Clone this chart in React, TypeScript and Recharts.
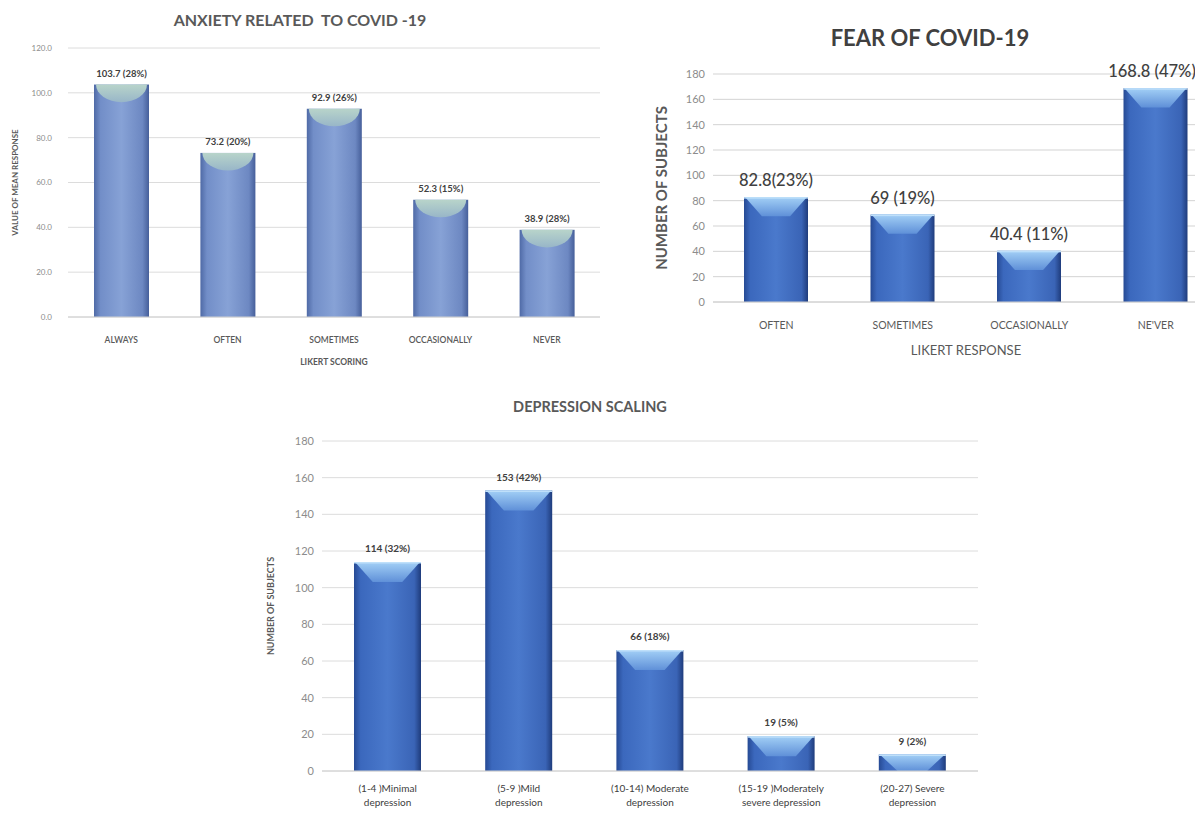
import React from "react";
import { Bar, BarChart, CartesianGrid, LabelList, XAxis, YAxis } from "recharts";

// anxiety related to covid-19
const anxietyCategories = ["ALWAYS", "OFTEN", "SOMETIMES", "OCCASIONALLY", "NEVER"];
const anxietyValues = [103.7, 73.2, 92.9, 52.3, 38.9];
const anxietyLabels = ["103.7 (28%)", "73.2 (20%)", "92.9 (26%)", "52.3 (15%)", "38.9 (28%)"];
const anxietyTicks = [0, 20, 40, 60, 80, 100, 120];

// fear of covid-19
const fearCategories = ["OFTEN", "SOMETIMES", "OCCASIONALLY", "NE'VER"];
const fearValues = [82.8, 69, 40.4, 168.8];
const fearLabels = ["82.8(23%)", "69 (19%)", "40.4 (11%)", "168.8 (47%)"];
const countTicks = [0, 20, 40, 60, 80, 100, 120, 140, 160, 180];

// depression scaling
const depressionCategories = [
  "(1-4 )Minimal\ndepression",
  "(5-9 )Mild\ndepression",
  "(10-14) Moderate\ndepression",
  "(15-19 )Moderately\nsevere depression",
  "(20-27) Severe\ndepression",
];
const depressionValues = [114, 153, 66, 19, 9];
const depressionLabels = ["114 (32%)", "153 (42%)", "66 (18%)", "19 (5%)", "9 (2%)"];

const FONT = "Lato, 'Open Sans', sans-serif";

const anxietyData = anxietyCategories.map((name, i) => ({ name, value: anxietyValues[i], label: anxietyLabels[i] }));
const fearData = fearCategories.map((name, i) => ({ name, value: fearValues[i], label: fearLabels[i] }));
const depressionData = depressionCategories.map((name, i) => ({
  name,
  value: depressionValues[i],
  label: depressionLabels[i],
}));

function DeepBar(props: any) {
  const { x, y, width, height, index, tag } = props;
  if (!width || height <= 0) return null;
  const d = Math.min(width * 0.3, height);
  const id = `${tag}-${index}`;
  return (
    <g>
      <defs>
        <linearGradient id={`${id}-b`} x1="0" y1="0" x2="1" y2="0">
          <stop offset="0" stopColor="#264a94" />
          <stop offset="0.1" stopColor="#3b68bd" />
          <stop offset="0.5" stopColor="#4a79cc" />
          <stop offset="0.9" stopColor="#3a64b6" />
          <stop offset="1" stopColor="#1f3c7c" />
        </linearGradient>
        <linearGradient id={`${id}-t`} x1="0" y1="0" x2="0" y2="1">
          <stop offset="0" stopColor="#a3d0f6" />
          <stop offset="1" stopColor="#5f90d8" />
        </linearGradient>
      </defs>
      <rect x={x} y={y} width={width} height={height} fill={`url(#${id}-b)`} />
      <polygon
        points={`${x + 1},${y} ${x + width - 1},${y} ${x + width * 0.72},${y + d} ${x + width * 0.28},${y + d}`}
        fill={`url(#${id}-t)`}
      />
      <rect x={x} y={y} width={width} height={1.5} fill="#bfe0fa" />
    </g>
  );
}

function SoftBar(props: any) {
  const { x, y, width, height, index } = props;
  if (!width || height <= 0) return null;
  const d = Math.min(width * 0.32, height);
  const id = `anx-${index}`;
  return (
    <g>
      <defs>
        <linearGradient id={`${id}-b`} x1="0" y1="0" x2="1" y2="0">
          <stop offset="0" stopColor="#4f6aa6" />
          <stop offset="0.12" stopColor="#728ec8" />
          <stop offset="0.5" stopColor="#87a2d6" />
          <stop offset="0.88" stopColor="#6d88c2" />
          <stop offset="1" stopColor="#465f9a" />
        </linearGradient>
        <linearGradient id={`${id}-t`} x1="0" y1="0" x2="0" y2="1">
          <stop offset="0" stopColor="#b8d4ca" />
          <stop offset="1" stopColor="#98b6c8" />
        </linearGradient>
      </defs>
      <rect x={x} y={y} width={width} height={height} fill={`url(#${id}-b)`} />
      <path
        d={`M${x + 2},${y} L${x + width - 2},${y} A${width / 2 - 2},${d} 0 0 1 ${x + 2},${y} Z`}
        fill={`url(#${id}-t)`}
      />
    </g>
  );
}

const makeTick = (size: number, color: string, weight: number, dy: number) => (p: any) => (
  <text x={p.x} y={p.y + dy} textAnchor="middle" fontFamily={FONT} fontSize={size} fontWeight={weight} fill={color}>
    {p.payload.value}
  </text>
);

const TwoLineTick = (p: any) => {
  const lines = String(p.payload.value).split("\n");
  return (
    <text x={p.x} y={p.y + 19} textAnchor="middle" fontFamily={FONT} fontSize={10} fill="#404040">
      {lines.map((l, i) => (
        <tspan key={i} x={p.x} dy={i === 0 ? 0 : 13.5}>
          {l}
        </tspan>
      ))}
    </text>
  );
};

// maxX keeps a label inside the visible page when its bar sits near the edge
const makeLabel = (data: any[], size: number, weight: number, color: string, gap: number, maxX = Infinity) => (
  p: any
) => (
  <text
    x={Math.min(p.x + p.width / 2, maxX)}
    y={p.y - gap}
    textAnchor="middle"
    fontFamily={FONT}
    fontSize={size}
    fontWeight={weight}
    fill={color}
  >
    {data[p.index].label}
  </text>
);

const yTitle = (text: string, dx: number, size: number) => (p: any) => {
  const vb = p.viewBox;
  const cx = vb.x + dx;
  const cy = vb.y + vb.height / 2;
  return (
    <text
      x={cx}
      y={cy}
      transform={`rotate(-90 ${cx} ${cy})`}
      textAnchor="middle"
      dominantBaseline="central"
      fontFamily={FONT}
      fontSize={size}
      fontWeight={700}
      fill="#595959"
    >
      {text}
    </text>
  );
};

const xTitle = (text: string, dy: number, size: number, weight: number) => (p: any) => {
  const vb = p.viewBox;
  return (
    <text
      x={vb.x + vb.width / 2}
      y={vb.y + dy}
      textAnchor="middle"
      fontFamily={FONT}
      fontSize={size}
      fontWeight={weight}
      fill="#595959"
    >
      {text}
    </text>
  );
};

const titleStyle = (left: number, top: number, width: number, size: number, color: string): React.CSSProperties => ({
  position: "absolute",
  left,
  top,
  width,
  textAlign: "center",
  fontFamily: FONT,
  fontWeight: 700,
  fontSize: size,
  color,
  lineHeight: 1,
});

export default function App() {
  return (
    <div style={{ position: "relative", width: 1203, height: 816, margin: -8, overflow: "hidden", background: "#fff" }}>
      <div style={titleStyle(150, 12, 300, 16, "#595959")}>ANXIETY RELATED&nbsp; TO COVID -19</div>
      <div style={{ position: "absolute", left: 0, top: 0 }}>
        <BarChart width={610} height={375} data={anxietyData} margin={{ top: 48, right: 10, bottom: 0, left: 0 }}>
          <CartesianGrid stroke="#dcdcdc" vertical={false} />
          <XAxis
            dataKey="name"
            axisLine={{ stroke: "#d0d0d0" }}
            tickLine={false}
            tickSize={0}
            height={58}
            interval={0}
            tick={makeTick(8.5, "#595959", 600, 24)}
            label={{ content: xTitle("LIKERT SCORING", 48, 8.5, 700) }}
          />
          <YAxis
            width={68}
            domain={[0, 120]}
            ticks={anxietyTicks}
            axisLine={false}
            tickLine={false}
            tickMargin={10}
            tickFormatter={(v: number) => v.toFixed(1)}
            tick={{ fontFamily: FONT, fontSize: 8, fill: "#8c8c8c" }}
            label={{ content: yTitle("VALUE OF MEAN RESPONSE", 15, 8) }}
          />
          <Bar dataKey="value" barSize={55} isAnimationActive={false} shape={(p: any) => <SoftBar {...p} />}>
            <LabelList content={makeLabel(anxietyData, 9.5, 700, "#404040", 8)} />
          </Bar>
        </BarChart>
      </div>

      <div style={titleStyle(780, 27, 300, 22, "#404040")}>FEAR OF COVID-19</div>
      <div style={{ position: "absolute", left: 600, top: 0 }}>
        <BarChart width={620} height={375} data={fearData} margin={{ top: 74, right: 1, bottom: 0, left: 0 }}>
          <CartesianGrid stroke="#d3d3d3" vertical={false} />
          <XAxis
            dataKey="name"
            axisLine={{ stroke: "#d0d0d0" }}
            tickLine={false}
            tickSize={0}
            height={73}
            interval={0}
            tick={makeTick(10.5, "#595959", 400, 25)}
            label={{ content: xTitle("LIKERT RESPONSE", 53, 13, 400) }}
          />
          <YAxis
            width={113}
            domain={[0, 180]}
            ticks={countTicks}
            axisLine={false}
            tickLine={false}
            tick={{ fontFamily: FONT, fontSize: 11, fill: "#8c8c8c" }}
            label={{ content: yTitle("NUMBER OF SUBJECTS", 61, 15) }}
          />
          <Bar dataKey="value" barSize={64} isAnimationActive={false} shape={(p: any) => <DeepBar {...p} tag="fear" />}>
            <LabelList content={makeLabel(fearData, 16.5, 500, "#404040", 11, 552)} />
          </Bar>
        </BarChart>
      </div>

      <div style={titleStyle(440, 400, 300, 14.5, "#595959")}>DEPRESSION SCALING</div>
      <div style={{ position: "absolute", left: 230, top: 370 }}>
        <BarChart width={760} height={446} data={depressionData} margin={{ top: 71, right: 12, bottom: 0, left: 0 }}>
          <CartesianGrid stroke="#dcdcdc" vertical={false} />
          <XAxis
            dataKey="name"
            axisLine={{ stroke: "#d0d0d0" }}
            tickLine={false}
            tickSize={0}
            height={45}
            interval={0}
            tick={TwoLineTick}
          />
          <YAxis
            width={92}
            domain={[0, 180]}
            ticks={countTicks}
            axisLine={false}
            tickLine={false}
            tick={{ fontFamily: FONT, fontSize: 11, fill: "#8c8c8c" }}
            label={{ content: yTitle("NUMBER OF SUBJECTS", 40, 9) }}
          />
          <Bar dataKey="value" barSize={67} isAnimationActive={false} shape={(p: any) => <DeepBar {...p} tag="dep" />}>
            <LabelList content={makeLabel(depressionData, 10, 700, "#404040", 10)} />
          </Bar>
        </BarChart>
      </div>
    </div>
  );
}
